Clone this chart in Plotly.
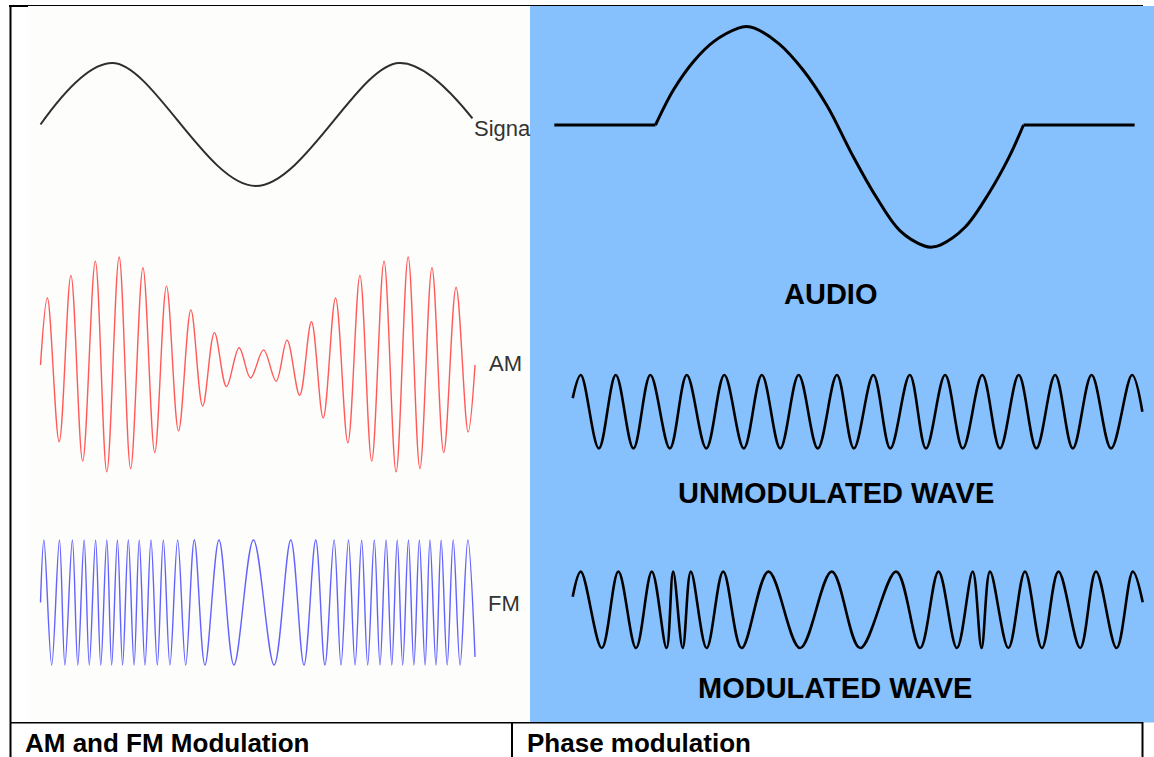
import plotly.graph_objects as go

W, H = 1154, 757

# ---------------- data (time in ms, amplitude normalised) ----------------
# AM / FM panel
signal_t = [0.0, 2.5, 7.5, 12.5, 15.05]
signal_v = [0.0, 1.0, -1.0, 1.0, 0.10]

am_t = [0.0, 0.24, 0.65, 1.06, 1.47, 1.91, 2.31, 2.74, 3.14, 3.57, 3.98, 4.39, 4.81,
        5.24, 5.65, 6.06, 6.48, 6.92, 7.32, 7.77, 8.21, 8.59, 9.03, 9.44, 9.85, 10.28,
        10.71, 11.13, 11.54, 11.97, 12.39, 12.81, 13.22, 13.64, 14.05, 14.48, 14.90, 15.14]
am_v = [0.0, 0.62, -0.71, 0.83, -0.89, 0.96, -0.99, 1.0, -0.96, 0.90, -0.81, 0.73, -0.61,
        0.51, -0.38, 0.30, -0.20, 0.16, -0.12, 0.14, -0.15, 0.23, -0.28, 0.40, -0.49, 0.62,
        -0.72, 0.83, -0.89, 0.96, -0.99, 1.0, -0.96, 0.90, -0.81, 0.72, -0.62, 0.0]

fm_t = [0.0, 0.12, 0.39, 0.66, 0.85, 1.11, 1.30, 1.52, 1.70, 1.92, 2.10, 2.31, 2.48, 2.68,
        2.86, 3.06, 3.26, 3.44, 3.64, 3.85, 4.07, 4.28, 4.51, 4.78, 5.06, 5.36, 5.73, 6.22,
        6.74, 7.42, 8.14, 8.72, 9.18, 9.59, 9.91, 10.23, 10.47, 10.73, 10.96, 11.19, 11.40,
        11.63, 11.83, 12.04, 12.24, 12.43, 12.62, 12.82, 13.01, 13.20, 13.40, 13.57, 13.78,
        13.96, 14.17, 14.38, 14.62, 14.89, 15.14]
fm_v = [0.0, 1, -1, 1, -1, 1, -1, 1, -1, 1, -1, 1, -1, 1, -1, 1, -1, 1, -1, 1, -1, 1, -1,
        1, -1, 1, -1, 1, -1, 1, -1, 1, -1, 1, -1, 1, -1, 1, -1, 1, -1, 1, -1, 1, -1, 1, -1,
        1, -1, 1, -1, 1, -1, 1, -1, 1, -1, 1, -0.87]

# Phase modulation panel
audio_t = [-2.75, 0.0, 0.49, 1.04, 1.59, 2.25, 2.47, 2.69, 3.35, 4.01, 4.67, 5.33, 5.99,
           6.64, 7.31, 7.52, 7.75, 8.41, 9.06, 9.61, 10.0, 13.02]
audio_v = [0.0, 0.0, 0.32, 0.58, 0.76, 0.88, 0.895, 0.88, 0.74, 0.50, 0.17, -0.26, -0.65,
           -0.96, -1.10, -1.11, -1.09, -0.93, -0.62, -0.29, 0.0, 0.0]

unmod_t = [-2.25, -2.03, -1.54, -1.08, -0.60, -0.14, 0.39, 0.85, 1.38, 1.87, 2.40, 2.89,
           3.39, 3.89, 4.41, 4.93, 5.39, 5.92, 6.38, 6.91, 7.35, 7.87, 8.35, 8.88, 9.36,
           9.87, 10.35, 10.86, 11.34, 11.85, 12.38, 12.95, 13.23]
unmod_v = [0.37, 1, -1, 1, -1, 1, -1, 1, -1, 1, -1, 1, -1, 1, -1, 1, -1, 1, -1, 1, -1, 1,
           -1, 1, -1, 1, -1, 1, -1, 1, -1, 1, 0.0]

mod_t = [-2.25, -2.03, -1.46, -1.01, -0.53, -0.10, 0.30, 0.48, 0.74, 0.96, 1.39, 1.84,
         2.34, 3.07, 3.93, 4.79, 5.56, 6.54, 7.19, 7.69, 8.19, 8.62, 8.86, 9.09, 9.59,
         10.04, 10.50, 10.95, 11.54, 11.97, 12.53, 12.97, 13.24]
mod_v = [0.34, 1, -1, 1, -1, 1, -1, 1, -1, 1, -1, 1, -1, 1, -1, 1, -1, 1, -1, 1, -1, 1,
         -1, 1, -1, 1, -1, 1, -1, 1, -1, 1, 0.2]

labels_left = ["Signa", "AM", "FM"]
labels_right = ["AUDIO", "UNMODULATED WAVE", "MODULATED WAVE"]
captions = ["AM and FM Modulation", "Phase modulation"]

# ---------------- layout geometry (pixels) ----------------
# each panel: origin x pixel (t=0), px per ms, centre y pixel (v=0), px per unit
panels = [
    dict(x0=40.5, sx=28.7, y0=124.5, sy=61.5),   # signal
    dict(x0=40.5, sx=28.7, y0=365.0, sy=108.0),  # AM
    dict(x0=40.5, sx=28.7, y0=602.5, sy=62.5),   # FM
    dict(x0=655.5, sx=36.8, y0=125.0, sy=110.0),  # audio
    dict(x0=655.5, sx=36.8, y0=411.7, sy=36.7),   # unmodulated
    dict(x0=655.5, sx=36.8, y0=609.85, sy=38.2),  # modulated
]


def px(x):
    return x / W


def py(y):
    return 1 - y / H


fig = go.Figure()
layout_axes = {}
for i, p in enumerate(panels):
    n = "" if i == 0 else str(i + 1)
    layout_axes["xaxis" + n] = dict(domain=[0, 1], range=[(0 - p["x0"]) / p["sx"], (W - p["x0"]) / p["sx"]],
                                    visible=False, fixedrange=True, anchor="y" + n)
    layout_axes["yaxis" + n] = dict(domain=[0, 1], range=[(p["y0"] - H) / p["sy"], p["y0"] / p["sy"]],
                                    visible=False, fixedrange=True, anchor="x" + n)


def add(t, v, idx, color, width, shape="spline"):
    n = "" if idx == 0 else str(idx + 1)
    fig.add_trace(go.Scatter(x=t, y=v, mode="lines", xaxis="x" + n, yaxis="y" + n,
                             line=dict(color=color, width=width, shape=shape),
                             hoverinfo="skip", showlegend=False))


add(signal_t, signal_v, 0, "#2e2e2e", 2.0)
add(am_t, am_v, 1, "rgba(255,60,60,0.85)", 1.4)
add(fm_t, fm_v, 2, "rgba(70,70,255,0.85)", 1.4)
add(audio_t[0:2], audio_v[0:2], 3, "black", 3.2, "linear")
add(audio_t[1:21], audio_v[1:21], 3, "black", 3.0)
add(audio_t[20:22], audio_v[20:22], 3, "black", 3.0, "linear")
add(unmod_t, unmod_v, 4, "black", 2.6)
add(mod_t, mod_v, 5, "black", 2.6)

shapes = [
    dict(type="rect", xref="paper", yref="paper", x0=px(28), x1=px(530), y0=py(722), y1=py(6),
         fillcolor="#FDFDFB", line=dict(width=0), layer="below"),
    dict(type="rect", xref="paper", yref="paper", x0=px(530), x1=px(1154), y0=py(722.5), y1=py(6),
         fillcolor="#86C1FD", line=dict(width=0), layer="below"),
    dict(type="line", xref="paper", yref="paper", x0=px(9), x1=px(1143), y0=py(5.5), y1=py(5.5),
         line=dict(color="black", width=1)),
    dict(type="line", xref="paper", yref="paper", x0=px(9), x1=px(28), y0=py(6), y1=py(6),
         line=dict(color="black", width=2)),
    dict(type="line", xref="paper", yref="paper", x0=px(10.5), x1=px(10.5), y0=py(5), y1=py(757),
         line=dict(color="black", width=2)),
    dict(type="line", xref="paper", yref="paper", x0=px(10), x1=px(1143), y0=py(722.8), y1=py(722.8),
         line=dict(color="black", width=1.5)),
    dict(type="line", xref="paper", yref="paper", x0=px(512), x1=px(512), y0=py(722), y1=py(757),
         line=dict(color="black", width=2)),
    dict(type="line", xref="paper", yref="paper", x0=px(1142.5), x1=px(1142.5), y0=py(722), y1=py(757),
         line=dict(color="black", width=2)),
]

narrow = dict(family="Liberation Sans Narrow, Liberation Sans, Arial, sans-serif", size=22, color="#333333")
block = dict(family="Liberation Sans, Arial, sans-serif", size=29, color="black", weight="bold")
cap_font = dict(family="Liberation Sans, Arial, sans-serif", size=26, color="black", weight="bold")

annotations = []
for text, (x, y) in zip(labels_left, [(472, 128), (487, 364), (486, 603)]):
    annotations.append(dict(text=text, x=px(x), y=py(y), xref="paper", yref="paper", showarrow=False,
                            xanchor="left", yanchor="middle", font=narrow))
for text, (x, y) in zip(labels_right, [(830, 294), (836, 493), (834.5, 688)]):
    annotations.append(dict(text=text, x=px(x), y=py(y), xref="paper", yref="paper", showarrow=False,
                            xanchor="center", yanchor="middle", font=block))
for text, (x, y) in zip(captions, [(23, 743), (525, 743)]):
    annotations.append(dict(text=text, x=px(x), y=py(y), xref="paper", yref="paper", showarrow=False,
                            xanchor="left", yanchor="middle", font=cap_font))

fig.update_layout(width=W, height=H, margin=dict(l=0, r=0, t=0, b=0),
                  paper_bgcolor="white", plot_bgcolor="rgba(0,0,0,0)",
                  shapes=shapes, annotations=annotations, showlegend=False, **layout_axes)

fig.write_html("out.html", config={"displayModeBar": False},
               post_script="document.body.style.margin='0px';document.body.style.overflow='hidden';")
